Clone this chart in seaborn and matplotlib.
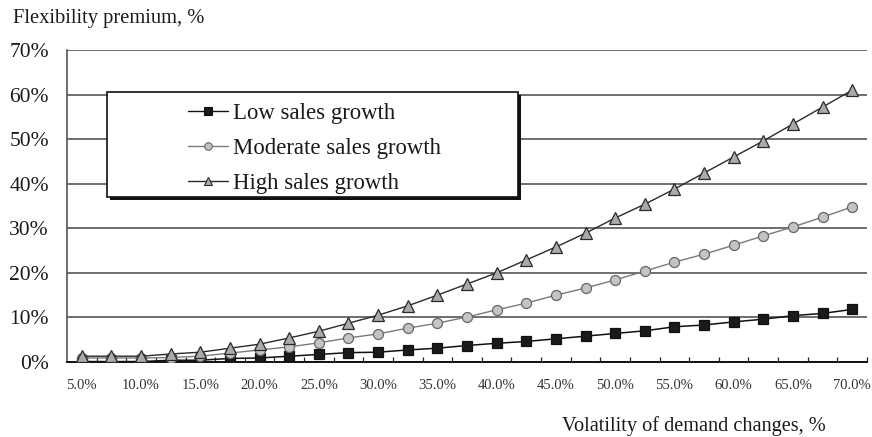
import seaborn as sns
import matplotlib.pyplot as plt
import matplotlib.transforms as mtransforms
from matplotlib.lines import Line2D
from matplotlib.patches import Rectangle
from matplotlib.ticker import FixedLocator, FuncFormatter

# Volatility of demand changes (%), one category every 2.5 points
volatility = [5.0, 7.5, 10.0, 12.5, 15.0, 17.5, 20.0, 22.5, 25.0, 27.5,
              30.0, 32.5, 35.0, 37.5, 40.0, 42.5, 45.0, 47.5, 50.0, 52.5,
              55.0, 57.5, 60.0, 62.5, 65.0, 67.5, 70.0]

# Flexibility premium (%) for each sales-growth scenario
low_growth = [0.1, 0.1, 0.1, 0.4, 0.4, 0.8, 0.9, 1.3, 1.7, 2.1,
              2.2, 2.7, 3.1, 3.7, 4.2, 4.6, 5.2, 5.8, 6.4, 7.0,
              7.9, 8.3, 9.0, 9.6, 10.4, 10.9, 11.8]
moderate_growth = [0.9, 0.9, 0.9, 1.0, 1.3, 2.0, 2.7, 3.4, 4.3, 5.4,
                   6.3, 7.6, 8.7, 10.1, 11.7, 13.2, 15.0, 16.6, 18.4, 20.4,
                   22.4, 24.2, 26.2, 28.3, 30.3, 32.5, 34.8]
high_growth = [1.3, 1.3, 1.3, 1.8, 2.2, 3.1, 4.0, 5.4, 6.9, 8.7,
               10.5, 12.6, 15.0, 17.5, 20.0, 22.9, 25.8, 28.9, 32.3, 35.4,
               38.8, 42.4, 46.0, 49.6, 53.4, 57.2, 61.0]

series_names = ["Low sales growth", "Moderate sales growth", "High sales growth"]
y_ticks = [0, 10, 20, 30, 40, 50, 60, 70]

sns.set_style("white")
plt.rcParams["font.family"] = ["Liberation Serif", "DejaVu Serif"]
plt.rcParams["text.color"] = "#1a1a1a"

fig = plt.figure(figsize=(8.72, 4.37), dpi=100)
ax = fig.add_axes([67 / 872, 1 - 362 / 437, 800 / 872, 312 / 437])

styles = [
    dict(color="#111111", marker="s", markersize=7.2, markerfacecolor="#1a1a1a",
         markeredgecolor="#111111", linewidth=1.1),
    dict(color="#7a7a7a", marker="o", markersize=7.2, markerfacecolor="#c4c4c4",
         markeredgecolor="#666666", linewidth=1.0),
    dict(color="#2a2a2a", marker="^", markersize=8.5, markerfacecolor="#aaaaaa",
         markeredgecolor="#2a2a2a", linewidth=1.0),
]
values = [low_growth, moderate_growth, high_growth]

for vals, st in zip(values, styles):
    sns.lineplot(x=volatility, y=vals, ax=ax, legend=False,
                 markeredgewidth=0.9, zorder=3, **st)

# Axes limits: half a category of margin on each side
half = (volatility[1] - volatility[0]) / 2
ax.set_xlim(volatility[0] - half, volatility[-1] + half)
ax.set_ylim(0, 70)

ax.yaxis.set_major_locator(FixedLocator(y_ticks))
ax.yaxis.set_major_formatter(FuncFormatter(lambda v, p: f"{v:.0f}%"))
ax.tick_params(axis="y", which="major", direction="out", length=3, width=1,
               color="#555555", pad=10, labelsize=15.5, labelcolor="#1a1a1a")

ax.xaxis.set_major_locator(FixedLocator(volatility[::2]))
ax.xaxis.set_major_formatter(FuncFormatter(lambda v, p: f"{v:.1f}%"))
ax.xaxis.set_minor_locator(FixedLocator(
    [v + half for v in volatility[:-1]] + [volatility[-1] + half]))
ax.tick_params(axis="x", which="major", length=0, pad=12, labelsize=10.5,
               labelcolor="#333333")
ax.tick_params(axis="x", which="minor", direction="in", length=3.5, width=0.9,
               color="#222222", bottom=True)

ax.yaxis.grid(True, color="#555555", linewidth=1.2)
ax.xaxis.grid(False)
ax.set_axisbelow(True)
for side in ("top", "right"):
    ax.spines[side].set_visible(False)
ax.spines["left"].set_color("#555555")
ax.spines["left"].set_linewidth(1.2)
ax.spines["bottom"].set_color("#111111")
ax.spines["bottom"].set_linewidth(1.4)

# Legend box with a solid drop shadow
bx0, bx1 = (107 - 67) / 800, (518 - 67) / 800
by0, by1 = (362 - 197) / 312, (362 - 92) / 312
shadow_tr = mtransforms.offset_copy(ax.transAxes, fig=fig, x=3, y=-3, units="dots")
ax.add_patch(Rectangle((bx0, by0), bx1 - bx0, by1 - by0, transform=shadow_tr,
                       facecolor="#111111", edgecolor="none", zorder=5,
                       clip_on=False))
ax.add_patch(Rectangle((bx0, by0), bx1 - bx0, by1 - by0, transform=ax.transAxes,
                       facecolor="white", edgecolor="#111111", linewidth=1.2,
                       zorder=6, clip_on=False))

handles = [
    Line2D([], [], color=st["color"], marker=st["marker"],
           markersize=st["markersize"] * 0.75, markerfacecolor=st["markerfacecolor"],
           markeredgecolor=st["markeredgecolor"], markeredgewidth=0.8, linewidth=1.0)
    for st in styles
]
leg = ax.legend(handles, series_names, loc="center",
                bbox_to_anchor=((bx0 + bx1) / 2 + 2 / 800,
                                (by0 + by1) / 2 - 4 / 312),
                bbox_transform=ax.transAxes, frameon=False, fontsize=16.4,
                handlelength=1.75, handletextpad=0.22, labelspacing=0.6,
                borderpad=0)
leg.set_zorder(7)

fig.text(13 / 872, 1 - 19 / 437, "Flexibility premium, %", fontsize=14.8,
         va="center", ha="left")
fig.text(826 / 872, 1 - 426 / 437, "Volatility of demand changes, %",
         fontsize=14.6, va="center", ha="right")

fig.savefig("out.png", dpi=100)
